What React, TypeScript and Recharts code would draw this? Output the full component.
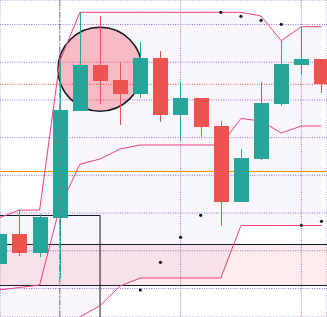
import {
  Area,
  Bar,
  CartesianGrid,
  ComposedChart,
  Line,
  ReferenceArea,
  ReferenceDot,
  ReferenceLine,
  Scatter,
  XAxis,
  YAxis,
} from "recharts";

const UP = "#26a69a";
const DOWN = "#ef5350";
const CHANNEL = "#ec407a";
const GRID = "#9575cd";
const INK = "#131722";

// One row per session, indexed from the left edge of the view.
const candleIndex = [0, 1, 2, 3, 4, 5, 6, 7, 8, 9, 10, 11, 12, 13, 14, 15, 16];
const opens = [106.5, 114.45, 109.49, 118.77, 147.07, 159.26, 155.28, 151.57, 161.12, 146.0, 150.43, 143.09, 123.02, 134.42, 148.92, 159.26, 160.85];
const highs = [116.57, 120.81, 119.75, 160.32, 173.24, 172.25, 159.79, 165.36, 162.97, 154.67, 150.43, 144.41, 136.99, 154.67, 165.71, 169.42, 160.85];
const lows = [105.44, 108.62, 108.35, 102.78, 147.07, 148.92, 143.35, 150.51, 144.15, 139.19, 140.09, 116.65, 123.02, 134.07, 148.39, 156.61, 151.92];
const closes = [114.45, 109.49, 118.96, 147.33, 159.26, 155.02, 151.57, 161.12, 146.0, 150.43, 142.9, 123.02, 134.6, 149.19, 159.53, 160.85, 154.14];

// Price channel (upper / basis / lower)
const channelUpper = [118.77, 120.81, 120.81, 160.32, 173.24, 173.24, 173.24, 173.24, 173.24, 173.24, 173.24, 173.24, 173.24, 172.25, 165.71, 169.42, 169.42];
const channelBasis = [99.6, 100.27, 100.93, 121.61, 132.93, 134.34, 136.99, 138.05, 138.05, 138.05, 138.05, 138.05, 145.08, 144.41, 141.23, 143.09, 143.09];
const channelLower = [80.43, 79.72, 81.04, 82.9, 92.44, 95.44, 100.66, 102.78, 102.78, 102.78, 102.78, 102.78, 116.7, 116.7, 116.7, 116.7, 116.7];

// Parabolic SAR, only where it falls inside the view
const sarIndex = [7, 8, 9, 10, 11, 12, 13, 14, 15, 16];
const sarValues = [99.6, 106.95, 113.58, 119.41, 173.24, 172.17, 171.11, 170.05, 116.76, 117.82];

const priceTicks = [100, 110, 120, 130, 140, 150, 160, 170];
const gridCandles = [3, 9, 15];

// Drawings on the chart
const markedCandle = 3;
const circleCandle = 5;
const circlePrice = 158.15;
const boxRightCandle = 5;
const boxTop = 119.36;
const boxBottom = 85;
const zoneTop = 111.67;
const zoneBottom = 100.8;
const alertLevel = 131.02;

const X_DOMAIN = [0.0314, 16.2735];
const Y_DOMAIN = [92.443, 176.496];

const rows = candleIndex.map((i, k) => ({
  i,
  open: opens[k],
  high: highs[k],
  low: lows[k],
  close: closes[k],
  upper: channelUpper[k],
  basis: channelBasis[k],
  lower: channelLower[k],
}));

const sarRows = sarIndex.map((i, k) => ({ i, sar: sarValues[k] }));

function Candle(props: any) {
  const { x, y, width, height, payload } = props;
  const { open, close, high, low } = payload;
  const color = close >= open ? UP : DOWN;
  const top = Math.min(y, y + height);
  const perUnit = Math.abs(height) / (high - low || 1);
  const yOf = (v: number) => top + (high - v) * perUnit;
  const left = Math.round(x + width / 2 - 7.5);
  const bodyTop = Math.round(yOf(Math.max(open, close)));
  const bodyBottom = Math.round(yOf(Math.min(open, close)));
  const wickTop = Math.round(yOf(high));
  const wickBottom = Math.round(yOf(low));
  return (
    <g>
      <rect x={left + 7} y={wickTop} width={1} height={Math.max(wickBottom - wickTop, 1)} fill={color} />
      <rect x={left} y={bodyTop} width={15} height={Math.max(bodyBottom - bodyTop, 1)} fill={color} />
    </g>
  );
}

function SarDot(props: any) {
  const { cx, cy } = props;
  return <circle cx={cx} cy={cy} r={1.6} fill={INK} />;
}

export default function App() {
  const lastClose = closes[closes.length - 1];
  return (
    <>
      <style>{"body{margin:0}"}</style>
      <ComposedChart width={327} height={317} data={rows} margin={{ top: 0, right: 0, bottom: 0, left: 0 }}>
        <XAxis dataKey="i" type="number" domain={X_DOMAIN} ticks={gridCandles} allowDataOverflow hide />
        <YAxis type="number" domain={Y_DOMAIN} ticks={priceTicks} allowDataOverflow hide />
        <CartesianGrid stroke={GRID} strokeDasharray="1 1.4" />
        <ReferenceArea
          x1={-1}
          x2={18}
          y1={zoneBottom}
          y2={zoneTop}
          ifOverflow="hidden"
          fill="rgba(242,54,69,0.1)"
          fillOpacity={1}
          stroke={INK}
          strokeWidth={1}
          zIndex={100}
        />
        <Area
          dataKey={(d: any) => [d.lower, d.upper]}
          type="linear"
          stroke="none"
          fill={GRID}
          fillOpacity={0.07}
          dot={false}
          activeDot={false}
          isAnimationActive={false}
          zIndex={110}
        />
        <ReferenceDot
          x={circleCandle}
          y={circlePrice}
          r={42}
          fill="rgba(242,54,69,0.3)"
          stroke={INK}
          strokeWidth={1.5}
          zIndex={150}
        />
        <ReferenceArea
          x1={-1}
          x2={boxRightCandle}
          y1={boxBottom}
          y2={boxTop}
          ifOverflow="hidden"
          fill="none"
          stroke={INK}
          strokeWidth={1}
          zIndex={160}
        />
        <ReferenceLine y={alertLevel} stroke="#ff9800" strokeWidth={1} zIndex={250} />
        <ReferenceLine y={lastClose} stroke={DOWN} strokeDasharray="1 1.4" zIndex={250} />
        <Line dataKey="upper" type="linear" stroke={CHANNEL} strokeWidth={1} dot={false} activeDot={false} isAnimationActive={false} zIndex={260} />
        <Line dataKey="basis" type="linear" stroke={CHANNEL} strokeWidth={1} dot={false} activeDot={false} isAnimationActive={false} zIndex={260} />
        <Line dataKey="lower" type="linear" stroke={CHANNEL} strokeWidth={1} dot={false} activeDot={false} isAnimationActive={false} zIndex={260} />
        <Bar
          dataKey={(d: any) => [d.low, d.high]}
          barSize={15}
          shape={<Candle />}
          isAnimationActive={false}
          zIndex={300}
        />
        <ReferenceLine x={markedCandle} stroke="#787b86" strokeDasharray="6 2 1.5 2" zIndex={400} />
        <Scatter data={sarRows} dataKey="sar" shape={<SarDot />} isAnimationActive={false} zIndex={600} />
      </ComposedChart>
    </>
  );
}
